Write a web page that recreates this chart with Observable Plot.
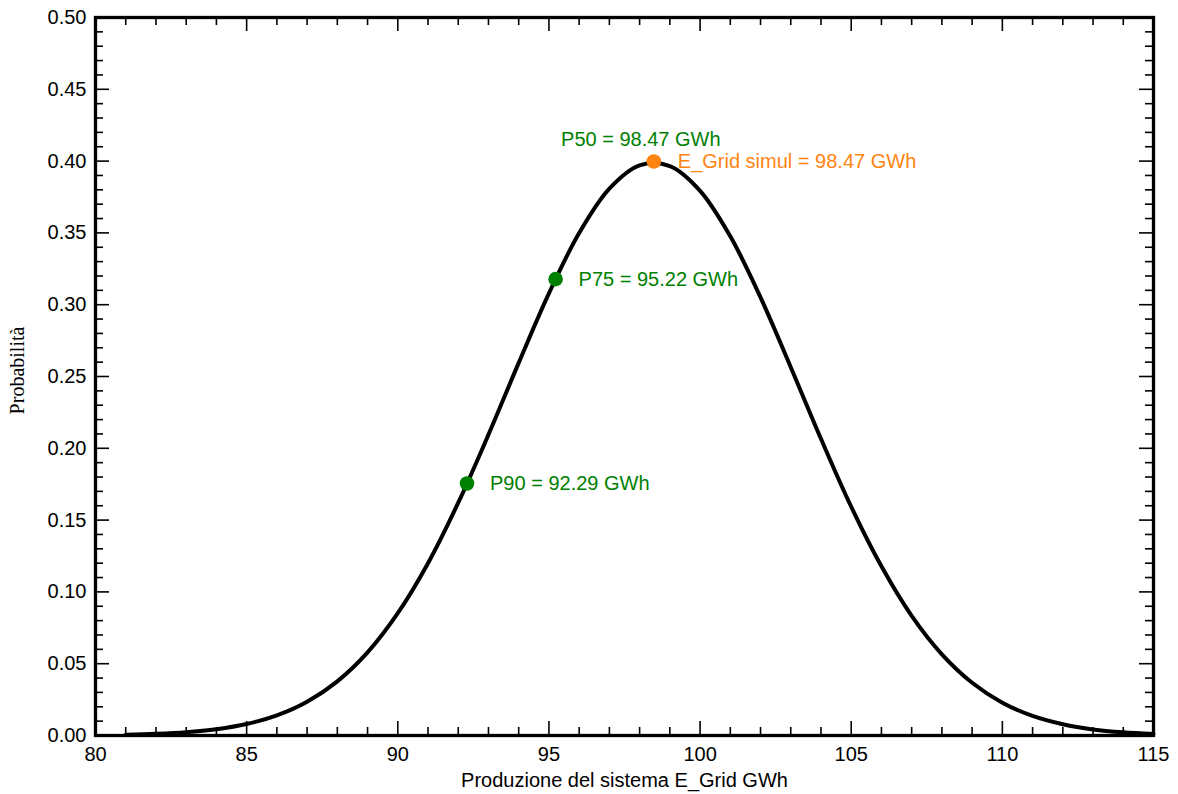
<!DOCTYPE html>
<html>
<head>
<meta charset="utf-8">
<script src="https://cdn.jsdelivr.net/npm/d3@7"></script>
<script src="https://cdn.jsdelivr.net/npm/@observablehq/plot@0.6"></script>
<style>
  html, body { margin: 0; padding: 0; background: #fff; }
</style>
</head>
<body>
<div id="chart"></div>
<script>
// Energy production (GWh) along the curve
const energy = [81, 82, 83, 84, 85, 86, 87, 88, 89, 90, 91, 92, 93, 94, 95, 96, 97, 98,
                99, 100, 101, 102, 103, 104, 105, 106, 107, 108, 109, 110, 111, 112, 113, 114, 115];
// Probability
const probability = [0.0006, 0.0012, 0.0023, 0.0044, 0.0080, 0.0140, 0.0235, 0.0377, 0.0579,
                     0.0852, 0.1200, 0.1621, 0.2095, 0.2595, 0.3079, 0.3499, 0.3808, 0.3970,
                     0.3965, 0.3793, 0.3476, 0.3051, 0.2565, 0.2066, 0.1593, 0.1178, 0.0833,
                     0.0565, 0.0367, 0.0228, 0.0136, 0.0078, 0.0042, 0.0022, 0.0011];

// Marked points
const markerLabels = ["P90 = 92.29 GWh", "P75 = 95.22 GWh"];
const markerX = [92.29, 95.22];
const markerY = [0.1755, 0.3178];
const simulLabel = "E_Grid simul = 98.47 GWh";
const p50Label = "P50 = 98.47 GWh";
const simulX = 98.47;
const simulY = 0.3997;

// Axis ticks
const xMajor = [80, 85, 90, 95, 100, 105, 110, 115];
const xMinor = d3.range(80, 116, 1).filter(v => v % 5 !== 0);
const yMajor = [0, 0.05, 0.10, 0.15, 0.20, 0.25, 0.30, 0.35, 0.40, 0.45, 0.50];
const yMinor = d3.range(0, 51, 1).filter(v => v % 5 !== 0).map(v => v / 100);

const xTitle = "Produzione del sistema E_Grid GWh";
const yTitle = "Probabilità";

const curve = energy.map((x, i) => ({x, y: probability[i]}));
const markers = markerX.map((x, i) => ({x, y: markerY[i], label: markerLabels[i]}));
const simul = [{x: simulX, y: simulY}];

const green = "#008000";
const orange = "#ff8412";

const W = 1178, H = 794, ML = 95, MR = 25, MT = 17, MB = 59;
const PW = W - ML - MR, PH = H - MT - MB;
const MAJ = 14, MIN = 8, TW = 1.6;

const chart = Plot.plot({
  width: W,
  height: H,
  marginLeft: ML,
  marginRight: MR,
  marginTop: MT,
  marginBottom: MB,
  style: {fontFamily: "'Liberation Sans', Arial, sans-serif", fontSize: "20px", color: "#000", background: "#fff"},
  x: {domain: [80, 115], axis: null},
  y: {domain: [0, 0.5], axis: null},
  marks: [
    // inward ticks: bottom & top
    Plot.ruleX(xMajor, {x: d => d, insetTop: PH - MAJ, stroke: "#000", strokeWidth: TW}),
    Plot.ruleX(xMinor, {x: d => d, insetTop: PH - MIN, stroke: "#000", strokeWidth: TW}),
    Plot.ruleX(xMajor, {x: d => d, insetBottom: PH - MAJ, stroke: "#000", strokeWidth: TW}),
    Plot.ruleX(xMinor, {x: d => d, insetBottom: PH - MIN, stroke: "#000", strokeWidth: TW}),
    // left & right
    Plot.ruleY(yMajor, {y: d => d, insetRight: PW - MAJ, stroke: "#000", strokeWidth: TW}),
    Plot.ruleY(yMinor, {y: d => d, insetRight: PW - MIN, stroke: "#000", strokeWidth: TW}),
    Plot.ruleY(yMajor, {y: d => d, insetLeft: PW - MAJ, stroke: "#000", strokeWidth: TW}),
    Plot.ruleY(yMinor, {y: d => d, insetLeft: PW - MIN, stroke: "#000", strokeWidth: TW}),
    // tick labels
    Plot.axisX({anchor: "bottom", ticks: xMajor, tickSize: 0, tickPadding: 11, tickFormat: d3.format("d"), label: null, fontSize: 20}),
    Plot.axisY({anchor: "left", ticks: yMajor, tickSize: 0, tickPadding: 9, tickFormat: d3.format(".2f"), label: null, fontSize: 20}),
    // axis titles
    Plot.text([xTitle], {frameAnchor: "bottom", lineAnchor: "middle", dy: 45, text: d => d, fontSize: 20}),
    Plot.text([yTitle], {frameAnchor: "left", textAnchor: "middle", lineAnchor: "middle", dx: -78, dy: -6, rotate: -90, text: d => d, fontSize: 20,
                         fontFamily: "'Liberation Serif', 'Times New Roman', serif"}),
    // curve
    Plot.line(curve, {x: "x", y: "y", stroke: "#000", strokeWidth: 4, strokeLinejoin: "round", curve: "catmull-rom"}),
    // markers
    Plot.dot(markers, {x: "x", y: "y", r: 7.3, fill: green, stroke: "none"}),
    Plot.text(markers, {x: "x", y: "y", text: "label", textAnchor: "start", dx: 23, fill: green, fontSize: 20}),
    Plot.dot(simul, {x: "x", y: "y", r: 7.3, fill: orange, stroke: "none"}),
    Plot.text(simul, {x: "x", y: "y", text: () => simulLabel, textAnchor: "start", dx: 24, fill: orange, fontSize: 20}),
    Plot.text(simul, {x: "x", y: "y", text: () => p50Label, textAnchor: "middle", dx: -13, dy: -22, fill: green, fontSize: 20}),
    // frame
    Plot.frame({stroke: "#000", strokeWidth: 3.3})
  ]
});
document.getElementById("chart").appendChild(chart);
</script>
</body>
</html>
